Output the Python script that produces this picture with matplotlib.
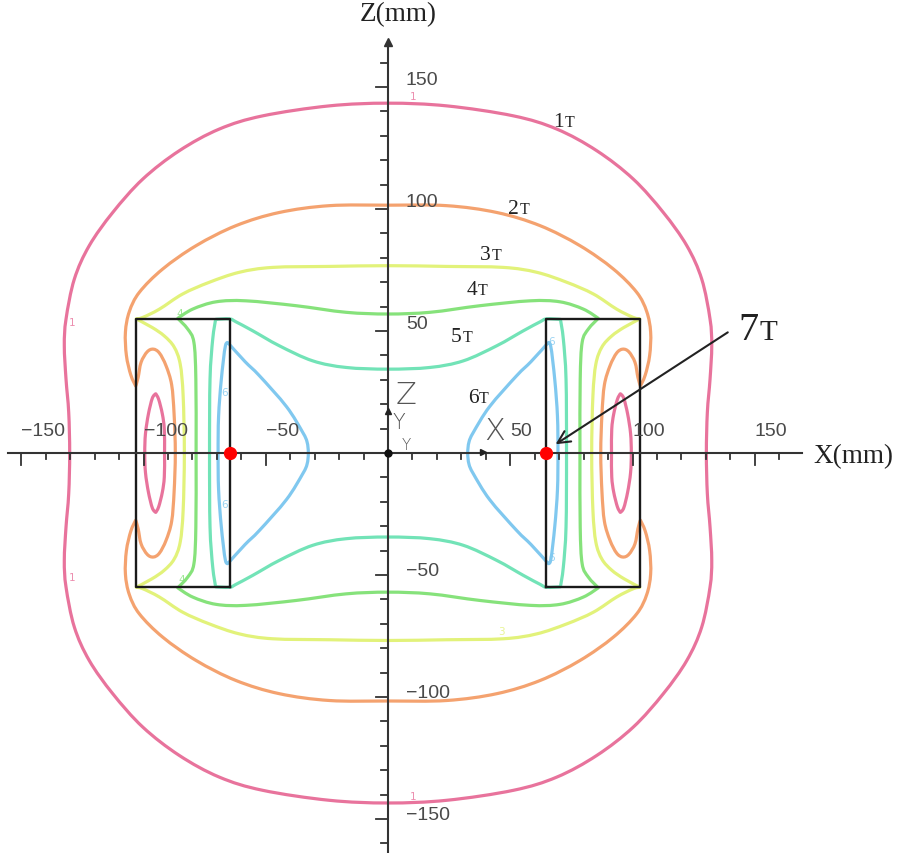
import math
import matplotlib
matplotlib.use("Agg")
import matplotlib.pyplot as plt
from matplotlib.path import Path
from matplotlib.patches import PathPatch

# ---------------- data (mm) ----------------
levels = ["1", "2", "3", "4", "5", "6"]
colors = {"1": "#e8739c", "2": "#f4a26f", "3": "#e2f27a",
          "4": "#86e27b", "5": "#72e3b7", "6": "#80c8ef"}

# closed contours given as the first quadrant (x>=0, z>=0), from the z axis to the x axis
c1_outer = [(0, 143.4), (24, 142.3), (51.3, 138.2), (69, 132.8), (85.4, 123.9),
            (100.3, 112.3), (112.6, 98.6), (122.2, 85), (128.3, 71.3), (131.7, 54.9),
            (132.4, 44), (131.7, 30.3), (130.6, 16.7), (130.2, 0)]
c2 = [(0, 101.6), (24, 101.4), (44.5, 98.6), (62.2, 93.2), (78.5, 85), (92.2, 75.4),
      (101.7, 65.9), (105.8, 58), (107.4, 49.6), (107.0, 40), (105.2, 32), (103.2, 27.5),
      (102.2, 31), (101, 37.2), (98.5, 41.5), (96, 42.6), (93.5, 41), (90.8, 35.8),
      (88.5, 28), (87.5, 16), (87.0, 0)]
c3 = [(0, 76.8), (24, 76.5), (47.2, 76.1), (60.8, 74.1), (73.1, 70), (84, 65.2),
      (93.5, 59), (100.3, 55.6), (103, 55), (96.5, 51.5), (91.5, 48), (87.5, 43.5),
      (85, 36.5), (83.8, 23.5), (83.3, 0)]
c4 = [(0, 57), (17.2, 57.7), (37.6, 60.4), (58.1, 62.4), (70.3, 62), (79.9, 59),
      (86, 55.2), (81.9, 50.8), (79.4, 45.4), (78.6, 30.3), (78.5, 0)]
c5 = [(0, 34.4), (17.2, 35.1), (30.8, 37.8), (44.5, 44), (55.3, 50.1), (62.2, 53.8),
      (64.8, 55), (70.5, 54.8), (71.7, 46.7), (72.8, 30.3), (73.0, 0)]
# per-coil loops given as the upper half (z>=0) of the right-hand loop
c6_loop = [(32.6, 0), (33.1, 4.5), (34.9, 8.5), (41.5, 19), (52.6, 31.7), (58.5, 37.5),
           (65.0, 44.7), (66.5, 44), (68.2, 30), (69.3, 15), (69.5, 0)]
c1_inner = [(91.4, 0), (91.5, 9.8), (92.3, 16), (93.8, 22), (95.0, 24.3), (96.4, 22.5),
            (98.0, 16), (99.2, 8), (99.5, 0)]

# coil cross sections
coil_x = [64.8, 103.0]
coil_z = [-55.0, 55.0]
max_point_x = [-64.8, 64.8]   # 7 T points

# axes
x_major = [-150, -100, -50, 50, 100, 150]
z_major = [-150, -100, -50, 50, 100, 150]
x_minor = list(range(-150, 161, 10))
z_minor = list(range(-160, 161, 10))

curve_labels = [("1", 72.0, 134.0), ("2", 53.6, 98.4), ("3", 42.1, 79.5),
                ("4", 36.4, 65.2), ("5", 30.1, 46.0), ("6", 36.9, 20.8)]
small_labels = [("1", -129.2, 53.7, "1"), ("1", -129.2, -50.8, "1"), ("1", 10.2, 146.5, "1"),
                ("1", 10.2, -140.6, "1"), ("6", -66.7, 25, "6"), ("6", -66.7, -21, "6"),
                ("6", 67.0, 46.0, "6"), ("6", 67.0, -42.6, "6"), ("4", -85.1, 57.5, "4"),
                ("4", -84.4, -51.6, "4"), ("3", 46.5, -72.8, "3")]


# ---------------- helpers ----------------
def full_from_quadrant(q):
    q4 = [(x, -z) for x, z in reversed(q)]
    q3 = [(-x, -z) for x, z in q]
    q2 = [(-x, z) for x, z in reversed(q)]
    pts = q + q4[1:] + q3[1:] + q2[1:]
    return pts[:-1]  # last equals first (closed)


def loop_from_half(h, side=1):
    low = [(x, -z) for x, z in reversed(h)]
    pts = h + low[1:]
    pts = [(side * x, z) for x, z in pts]
    return pts[:-1]


def turn_angle(a, b, c):
    v1 = (b[0] - a[0], b[1] - a[1])
    v2 = (c[0] - b[0], c[1] - b[1])
    n1 = math.hypot(*v1)
    n2 = math.hypot(*v2)
    if n1 == 0 or n2 == 0:
        return 0.0
    cosv = (v1[0] * v2[0] + v1[1] * v2[1]) / (n1 * n2)
    return math.degrees(math.acos(max(-1.0, min(1.0, cosv))))


def smooth_closed_path(pts, corner_deg=70):
    """Closed cubic Bezier path through the given points (Catmull-Rom style tangents)."""
    n = len(pts)
    corner = [turn_angle(pts[i - 1], pts[i], pts[(i + 1) % n]) > corner_deg for i in range(n)]
    verts = [pts[0]]
    codes = [Path.MOVETO]
    for i in range(n):
        p0, p1, p2, p3 = pts[i - 1], pts[i], pts[(i + 1) % n], pts[(i + 2) % n]
        if corner[i]:
            c1 = p1
        else:
            c1 = (p1[0] + (p2[0] - p0[0]) / 6, p1[1] + (p2[1] - p0[1]) / 6)
        if corner[(i + 1) % n]:
            c2 = p2
        else:
            c2 = (p2[0] - (p3[0] - p1[0]) / 6, p2[1] - (p3[1] - p1[1]) / 6)
        verts += [c1, c2, p2]
        codes += [Path.CURVE4] * 3
    return Path(verts, codes)


# ---------------- figure ----------------
fig = plt.figure(figsize=(9.01, 8.54), dpi=100)
ax = fig.add_axes([0, 0, 1, 1])
ax.set_xlim(-158.7, 209.8)
ax.set_ylim(-163.9, 186.1)
ax.axis("off")

lw = 2.3
curves = []
for lev, q in zip(["1", "2", "3", "4", "5"], [c1_outer, c2, c3, c4, c5]):
    curves.append((lev, full_from_quadrant(q)))
for side in (1, -1):
    curves.append(("6", loop_from_half(c6_loop, side)))
    curves.append(("1", loop_from_half(c1_inner, side)))
for lev, pts in curves:
    ax.add_patch(PathPatch(smooth_closed_path(pts), facecolor="none", edgecolor=colors[lev],
                           lw=lw, joinstyle="round", zorder=2))

# coil boxes
for side in (1, -1):
    bx = [side * coil_x[0], side * coil_x[1], side * coil_x[1], side * coil_x[0], side * coil_x[0]]
    bz = [coil_z[0], coil_z[0], coil_z[1], coil_z[1], coil_z[0]]
    ax.plot(bx, bz, color="#1a1a1a", lw=1.7, zorder=3)

# axes lines
axc = "#333333"
ax.plot([-155.4, 169.2], [0, 0], color=axc, lw=1.5, zorder=4)
ax.plot([0, 0], [-170, 166], color=axc, lw=1.5, zorder=4)
ax.plot([0], [168.5], marker="^", color=axc, ms=6, zorder=4)
for t in x_minor:
    L = 5.0 if t in x_major else 2.6
    ax.plot([t, t], [0, -L], color=axc, lw=1.3, zorder=4)
for t in z_minor:
    if t == 0:
        continue
    L = 4.8 if t in z_major else 2.7
    ax.plot([-L, 0], [t, t], color=axc, lw=1.3, zorder=4)

tick_font = dict(family="Liberation Sans", fontsize=14, color="#4a4a4a")
for t in x_major:
    ax.text(t, 9.3, ("\u2212" + str(-t)) if t < 0 else str(t), ha="left", va="center", **tick_font)
for t in z_major:
    ax.text(7.3, t + (3.0 if t > 0 else 2.0), ("\u2212" + str(-t)) if t < 0 else str(t),
            ha="left", va="center", **tick_font)

serif = "Liberation Serif"
ax.text(4.1, 180.0, "Z(mm)", family=serif, fontsize=19.5, ha="center", va="center", color="#222")
ax.text(190.5, -1.0, "X(mm)", family=serif, fontsize=19.5, ha="center", va="center", color="#222")

# local triad near origin
ax.text(7.2, 24.2, "Z", family="DejaVu Sans", fontsize=22, ha="center", va="center",
        color="#555", fontweight="light")
ax.text(4.6, 12.8, "Y", family="DejaVu Sans", fontsize=15, ha="center", va="center",
        color="#555", fontweight="light")
ax.text(7.6, 3.6, "Y", family="DejaVu Sans", fontsize=11, ha="center", va="center",
        color="#555", fontweight="light")
ax.text(43.8, 9.1, "X", family="DejaVu Sans", fontsize=22, ha="center", va="center",
        color="#555", fontweight="light")
ax.plot([0], [17.3], marker="^", color="#222", ms=5, zorder=5)
ax.plot([38.9], [0.6], marker=">", color="#222", ms=4, zorder=5)
ax.plot([0], [0], marker="o", color="#111", ms=5, zorder=5)

# 7 T points
ax.plot(max_point_x, [0, 0], linestyle="none", marker="o", color="#ff0000", ms=8.5, zorder=6)

# curve labels  e.g. "1T"
for d, x, z in curve_labels:
    ax.text(x, z, d, family=serif, fontsize=15.5, ha="right", va="baseline", color="#222")
    ax.text(x + 0.3, z, "T", family=serif, fontsize=11.5, ha="left", va="baseline", color="#222")
ax.text(151.5, 46.7, "7", family=serif, fontsize=29, ha="right", va="baseline", color="#222")
ax.text(151.8, 46.7, "T", family=serif, fontsize=21, ha="left", va="baseline", color="#222")
ax.annotate("", xy=(67.6, 3.0), xytext=(139.9, 50.1),
            arrowprops=dict(arrowstyle="->", color="#222", lw=1.5, mutation_scale=22), zorder=6)

# small in-line contour labels
for t, x, z, lev in small_labels:
    ax.text(x, z, t, family="DejaVu Sans", fontsize=7.5, ha="center", va="center",
            color=colors[lev], alpha=0.8, zorder=3)

fig.savefig("out.png", dpi=100)
